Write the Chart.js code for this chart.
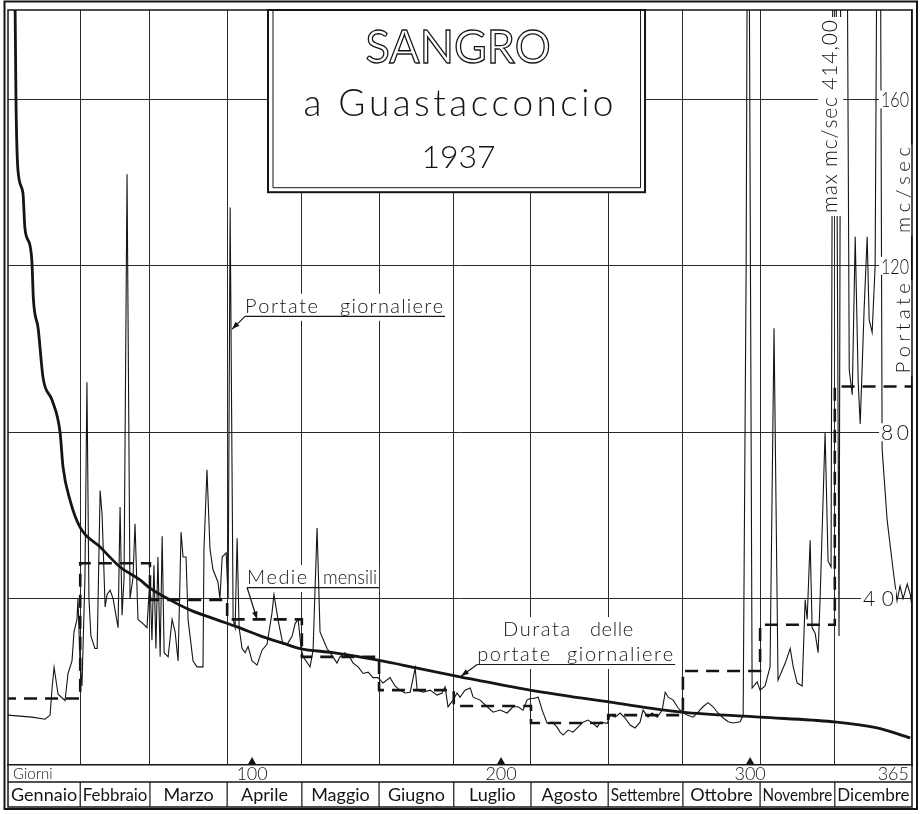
<!DOCTYPE html>
<html>
<head>
<meta charset="utf-8">
<script src="https://cdn.jsdelivr.net/npm/chart.js@4.4.1/dist/chart.umd.min.js"></script>
<style>
  html, body { margin: 0; padding: 0; background: #fff; }
  canvas { display: block; }
</style>
</head>
<body>
<canvas id="chart" width="921" height="814"></canvas>
<script>
// Sangro a Guastacconcio, 1937 - portate giornaliere, medie mensili, durata
const monthNames = ['Gennaio', 'Febbraio', 'Marzo', 'Aprile', 'Maggio', 'Giugno',
  'Luglio', 'Agosto', 'Settembre', 'Ottobre', 'Novembre', 'Dicembre']
const monthEnds = [31, 59, 90, 120, 151, 181, 212, 243, 273, 304, 334, 365]
const monthlyMeans = [16, 48.5, 39.7, 35, 26, 18, 14.2, 10.1, 12, 22.6, 33.7, 91]
const dayTicks = [100, 200, 300, 365]
const flowTicks = [40, 80, 120, 160]

// daily flows (day of year, mc/sec)
const dailyDays = [
  2, 11.6, 16.9, 18.9, 19.7, 20.5, 22.1, 24.9, 26.1, 27.7, 28.5, 29.7,
  30.1, 30.9, 31.7, 32.9, 33.7, 34.5, 35.3, 36.9, 37.8, 39.0, 39.8, 41.0, 41.8, 43.0, 44.2, 46.2,
  47.0, 47.8, 48.6, 49.8, 51.0, 52.2, 53.0, 54.2, 56.2, 57.8,
  59.0, 59.8, 60.6, 61.4, 62.2, 63.1, 63.9, 64.7, 66.3, 67.9, 69.1, 70.3, 71.5, 72.3, 73.5, 74.3,
  76.3, 77.9, 80.3, 80.7, 81.9, 83.1, 84.3, 86.3, 87.1, 88.0, 89.6, 90.4, 91.2, 92.4, 93.2, 94.0, 94.8, 96.0,
  97.2, 98.4, 100.0, 102.0, 104.0, 106.0, 108.0, 108.8, 110.4, 112.4, 114.1, 116.1, 117.3, 118.5, 119.7,
  120.5, 123.3, 124.5, 126.1, 127.3, 130.1, 132.5, 134.1, 135.3, 137.3, 139.4, 140.6, 142.6, 144.6, 146.6, 148.6, 150.6,
  152.6, 155.4, 157.4, 159.4, 161.4, 163.5, 165.5, 166.3, 168.7, 171.5, 174.3, 176.3, 177.5, 178.7, 180.7, 182.3,
  183.5, 185.5, 187.6, 188.8, 191.6, 194.4, 196.8, 199.6, 202.4, 204.8, 206.8, 208.8, 210.4, 211.6,
  212.9, 214.9, 216.5, 218.5, 220.5, 222.5, 223.7, 224.9, 226.9, 228.9, 230.9, 232.9, 234.9, 236.9, 238.6, 239.8, 242.6,
  243.8, 245.8, 247.8, 249.8, 251.8, 253.8, 255.8, 257.0, 259.0, 260.6, 262.7, 264.7, 265.9, 267.1, 269.1, 271.1, 272.7,
  274.7, 277.1, 279.1, 281.1, 283.1, 285.1, 287.1, 289.2, 291.2, 293.2, 296.0, 297.2, 298.4, 299.2, 300.8, 302.8, 304.0,
  306.0, 308.0, 309.6, 311.2, 314.1, 316.1, 317.3, 318.9, 320.9, 322.1, 322.9, 324.1, 324.9, 326.1, 327.3, 328.1, 330.1, 331.3, 332.5,
  333.7, 335.7, 337.3, 339.8, 341.0, 342.2, 343.4, 344.2, 345.8, 347.0, 347.8, 349.0, 350.2, 351.8,
  353.0, 355.0, 357.4, 359.0, 360.2, 361.4, 363.1, 364.3, 365,
]
const dailyFlow = [
  12, 11.5, 11, 12, 18.5, 23.5, 17, 15.5, 22, 25, 32, 35,
  40, 25, 19, 45, 92, 40, 31, 28, 28, 66, 60, 38, 41, 42, 40, 33,
  62, 36, 45, 142, 40, 45, 58, 35, 34, 33,
  45, 30, 48, 28, 50, 26, 55, 27, 26, 35, 32, 25, 56, 50, 50, 35,
  25, 23.6, 23.6, 52, 71, 52, 47, 44, 40, 50, 51, 40, 134, 35, 33, 54.5, 33, 28,
  27, 28.5, 25, 24, 27.6, 29, 36.5, 41, 35, 29, 29, 31, 34, 35, 28,
  26, 23.6, 27.6, 57, 32, 28, 26, 24.5, 26, 27, 25.7, 24.5, 23.6, 22, 22.3, 21, 21,
  19.7, 21, 19, 18, 17.3, 17.5, 23.3, 18, 17.5, 18, 16.8, 17.3, 18.8, 14, 15.6, 17.3,
  16.3, 18, 18.5, 16.3, 15.6, 14, 12.7, 13.2, 12.5, 14, 14, 13.2, 15.6, 16,
  16, 16.3, 13.2, 10, 10.3, 9.1, 7.9, 7.2, 8.4, 7.9, 9.1, 10.3, 10.8, 10, 9.1, 10.3, 10,
  12, 11.5, 12.5, 11.3, 9.6, 8.9, 10.3, 13.2, 11.5, 12.5, 11.5, 13.2, 17.5, 16.3, 15.6, 13.7, 12.7,
  12, 11.5, 12.7, 14, 15, 14, 12.5, 11.3, 10.4, 10.1, 10.4, 12, 120, 260, 18.5, 20, 18,
  19, 23.6, 105, 20.4, 24.5, 28, 23.6, 19.7, 19, 39.7, 35, 54, 33, 31.7, 27, 40, 80, 49, 47.6,
  300, 31, 414, 95, 89, 127, 92, 82, 110, 127, 107, 104, 120, 300,
  76, 59, 47, 39.5, 43, 40, 43.5, 41, 38,
]

// duration curve of the daily flows (days exceeded, mc/sec)
const durationDays = [4.6, 5.2, 6.0, 8.0, 8.8, 10.8, 11.6, 12.2, 14.1, 16.1, 19.7, 22.9, 24.1, 26.9,
  30.9, 39, 47, 55, 59, 67, 75, 86, 94, 104.4, 112.4, 119.3, 132.5, 150.6, 166.3, 183.5,
  211.6, 243.8, 272.7, 304, 332.9, 351, 364.3]
const durationFlow = [200, 160, 143, 137.5, 129, 125, 121, 112, 105, 93, 87.7, 80, 71.6, 63.7,
  57.2, 52.4, 47.6, 44.5, 42.5, 39.7, 37.3, 34.9, 33.2, 30.8, 29.3, 28, 27, 25.2, 23.3, 21.2,
  18, 15.1, 12.7, 11.5, 10.4, 8.9, 6.5]

const INK = '#151515'
const GRID = '#2a2a2a'
const FACE = 'Lato, "Noto Sans", "DejaVu Sans", sans-serif'
const font = (size, weight = 300) => `${weight} ${size}px ${FACE}`

const monthStarts = [0, ...monthEnds.slice(0, -1)]
const meanSteps = [
  ...monthStarts.map((d, i) => ({ x: d, y: monthlyMeans[i] })),
  { x: 365, y: monthlyMeans[monthlyMeans.length - 1] },
]

// draws text so that it fills a given width: letter spacing when short, squeezed when long
const spaced = (ctx, text, left, y, width, stroke) => {
  const chars = [...text]
  const ws = chars.map((c) => ctx.measureText(c).width)
  const natural = ws.reduce((a, b) => a + b, 0)
  if (natural > width) {
    ctx.save()
    ctx.translate(left, y)
    ctx.scale(width / natural, 1)
    if (stroke) ctx.strokeText(text, 0, 0)
    else ctx.fillText(text, 0, 0)
    ctx.restore()
    return
  }
  const gap = chars.length > 1 ? (width - natural) / (chars.length - 1) : 0
  let cx = left
  chars.forEach((c, i) => {
    if (stroke) ctx.strokeText(c, cx, y)
    else ctx.fillText(c, cx, y)
    cx += ws[i] + gap
  })
}

const arrow = (ctx, x0, y0, x1, y1) => {
  ctx.beginPath()
  ctx.moveTo(x0, y0)
  ctx.lineTo(x1, y1)
  ctx.stroke()
  const a = Math.atan2(y1 - y0, x1 - x0)
  ctx.beginPath()
  ctx.moveTo(x1, y1)
  ctx.lineTo(x1 - 8 * Math.cos(a - 0.35), y1 - 8 * Math.sin(a - 0.35))
  ctx.lineTo(x1 - 8 * Math.cos(a + 0.35), y1 - 8 * Math.sin(a + 0.35))
  ctx.closePath()
  ctx.fill()
}

// labels written on the sheet, placed in day / flow units
const notes = [
  { words: [['Portate', 97.2, 126.5], ['giornaliere', 135.3, 176.7]], at: 108.7, line: true, tip: [92.0, 104.8] },
  { words: [['Medie', 98.0, 122.1], ['mensili', 128.5, 150.2]], at: 43.5, line: true, tip: [102.0, 35.1] },
  { words: [['Durata', 200.8, 227.7], ['delle', 235.7, 253.0]], at: 31.0 },
  { words: [['portate', 190.4, 219.7], ['giornaliere', 226.5, 269.1]], at: 25.0, line: true, tip: [184.0, 21.4] },
]
const sideNotes = [
  { text: 'max mc/sec 414,00', day: 332.3, mid: 155.9, length: 193, size: 21 },
  { text: 'Portate', day: 361.8, mid: 105.0, length: 90, size: 20 },
  { text: 'mc/sec', day: 361.8, mid: 138.2, length: 86, size: 20 },
]

const sheet = {
  id: 'sheet',
  afterDraw(chart) {
    const { ctx, chartArea: area, scales: { x, y } } = chart
    const px = (d) => x.getPixelForValue(d)
    const py = (v) => y.getPixelForValue(v)
    ctx.save()
    ctx.fillStyle = INK
    ctx.strokeStyle = INK

    // title box
    const bx0 = px(106.4), bx1 = px(257.8), by1 = py(137.7), top = area.top
    ctx.fillStyle = '#fff'
    ctx.fillRect(bx0, top, bx1 - bx0, by1 - top)
    ctx.fillStyle = INK
    ctx.lineWidth = 2
    ctx.strokeRect(bx0, top, bx1 - bx0, by1 - top)
    ctx.lineWidth = 1
    ctx.beginPath()
    ctx.moveTo(bx0 + 5, top)
    ctx.lineTo(bx0 + 5, by1 - 4.5)
    ctx.lineTo(bx1 - 4.5, by1 - 4.5)
    ctx.lineTo(bx1 - 4.5, top)
    ctx.stroke()
    const cx = (bx0 + bx1) / 2 + 2
    ctx.textAlign = 'left'
    ctx.textBaseline = 'alphabetic'
    ctx.font = font(46, 400)
    ctx.lineWidth = 1.3
    spaced(ctx, 'SANGRO', cx - 93, top + 53, 186, true)
    ctx.font = font(37)
    spaced(ctx, 'a Guastacconcio', cx - 155, top + 106, 310)
    ctx.textAlign = 'center'
    ctx.font = font(32)
    ctx.fillText('1937', cx, top + 158)

    // notes with underline and leader arrow
    ctx.font = font(20)
    ctx.textAlign = 'left'
    notes.forEach((n) => {
      const base = py(n.at)
      n.words.forEach(([w, a, b]) => {
        ctx.fillStyle = '#fff'
        ctx.fillRect(px(a) - 2, base - 19, px(b) - px(a) + 4, 27)
        ctx.fillStyle = INK
        spaced(ctx, w, px(a), base, px(b) - px(a))
      })
      const x0 = px(n.words[0][1])
      const x1 = px(n.words[n.words.length - 1][2])
      if (n.line) {
        ctx.lineWidth = 1.2
        ctx.beginPath()
        ctx.moveTo(x0, base + 3.5)
        ctx.lineTo(x1 + 2, base + 3.5)
        ctx.stroke()
      }
      if (n.tip) arrow(ctx, x0, base + 3.5, px(n.tip[0]), py(n.tip[1]))
    })

    // rotated captions
    sideNotes.forEach((s) => {
      ctx.save()
      ctx.translate(px(s.day), py(s.mid))
      ctx.rotate(-Math.PI / 2)
      ctx.fillStyle = '#fff'
      ctx.fillRect(-s.length / 2 - 3, -s.size * 0.6, s.length + 6, s.size * 1.2)
      ctx.fillStyle = INK
      ctx.font = font(s.size)
      ctx.textAlign = 'left'
      ctx.textBaseline = 'middle'
      spaced(ctx, s.text, -s.length / 2, 0, s.length)
      ctx.restore()
    })

    // flow labels on the right edge
    ctx.font = font(21)
    ctx.textBaseline = 'middle'
    ctx.textAlign = 'left'
    flowTicks.forEach((v) => {
      const lx = area.right - (v === 40 ? 49 : 31)
      const w = v === 40 ? 31 : 28
      ctx.fillStyle = '#fff'
      ctx.fillRect(lx - 2, py(v) - 9, w + 4, 18)
      ctx.fillStyle = INK
      spaced(ctx, String(v), lx, py(v) + 1, w)
    })

    // day markers
    dayTicks.slice(0, -1).forEach((d) => {
      ctx.beginPath()
      ctx.moveTo(px(d) - 4.5, area.bottom)
      ctx.lineTo(px(d) + 4.5, area.bottom)
      ctx.lineTo(px(d), area.bottom - 8)
      ctx.closePath()
      ctx.fill()
    })

    // bottom band: days and months
    const rowMid = area.bottom + 17
    const rowBot = area.bottom + 42
    ctx.lineWidth = 1.5
    ctx.beginPath()
    ctx.moveTo(area.left, rowMid)
    ctx.lineTo(area.right, rowMid)
    ctx.stroke()
    ctx.font = font(15)
    ctx.textAlign = 'left'
    ctx.fillText('Giorni', area.left + 5, area.bottom + 9)
    ctx.font = font(18)
    dayTicks.forEach((d, i) => {
      const last = i === dayTicks.length - 1
      ctx.textAlign = last ? 'right' : 'center'
      ctx.fillText(String(d), last ? area.right - 3 : px(d), area.bottom + 9)
    })
    ctx.lineWidth = 1.2
    ctx.font = font(18, 400)
    ctx.textAlign = 'center'
    monthNames.forEach((m, i) => {
      const a = Math.max(area.left, px(monthStarts[i])), b = px(monthEnds[i])
      if (i < monthNames.length - 1) {
        ctx.beginPath()
        ctx.moveTo(b, rowMid)
        ctx.lineTo(b, rowBot)
        ctx.stroke()
      }
      const w = ctx.measureText(m).width
      const k = Math.min(1, (b - a - 5) / w)
      ctx.save()
      ctx.translate((a + b) / 2, (rowMid + rowBot) / 2 + 1)
      ctx.scale(k, 1)
      ctx.fillText(m, 0, 0)
      ctx.restore()
    })

    // frame
    ctx.lineWidth = 1.5
    ctx.strokeRect(area.left, area.top, area.right - area.left, rowBot - area.top)
    ctx.lineWidth = 2
    ctx.strokeRect(4.5, 1.5, area.right - 4.5 + 5, rowBot + 2 - 1.5)
    ctx.restore()
  },
}

new Chart(document.getElementById('chart').getContext('2d'), {
  type: 'line',
  data: {
    datasets: [
      {
        label: 'Portate giornaliere',
        data: dailyDays.map((d, i) => ({ x: d, y: dailyFlow[i] })),
        borderColor: INK,
        borderWidth: 1.1,
        pointRadius: 0,
        tension: 0,
      },
      {
        label: 'Medie mensili',
        data: meanSteps,
        stepped: 'before',
        borderColor: INK,
        borderWidth: 2.6,
        borderDash: [13, 8],
        pointRadius: 0,
      },
      {
        label: 'Durata delle portate giornaliere',
        data: durationDays.map((d, i) => ({ x: d, y: durationFlow[i] })),
        borderColor: INK,
        borderWidth: 2.8,
        cubicInterpolationMode: 'monotone',
        pointRadius: 0,
      },
    ],
  },
  options: {
    responsive: false,
    animation: false,
    layout: { padding: { left: 8, right: 9, top: 10, bottom: 49 } },
    plugins: { legend: { display: false }, tooltip: { enabled: false } },
    scales: {
      x: {
        type: 'linear',
        min: 2,
        max: 365,
        afterBuildTicks: (scale) => { scale.ticks = monthEnds.slice(0, -1).map((value) => ({ value })) },
        ticks: { display: false },
        grid: { color: GRID, lineWidth: 1, drawTicks: false },
        border: { display: true, color: INK, width: 1.5 },
      },
      y: {
        type: 'linear',
        position: 'right',
        min: 0,
        max: 181.5,
        afterBuildTicks: (scale) => { scale.ticks = flowTicks.map((value) => ({ value })) },
        ticks: { display: false },
        grid: { color: GRID, lineWidth: 1, drawTicks: false },
        border: { display: true, color: INK, width: 1.5 },
      },
    },
  },
  plugins: [sheet],
})
</script>
</body>
</html>
